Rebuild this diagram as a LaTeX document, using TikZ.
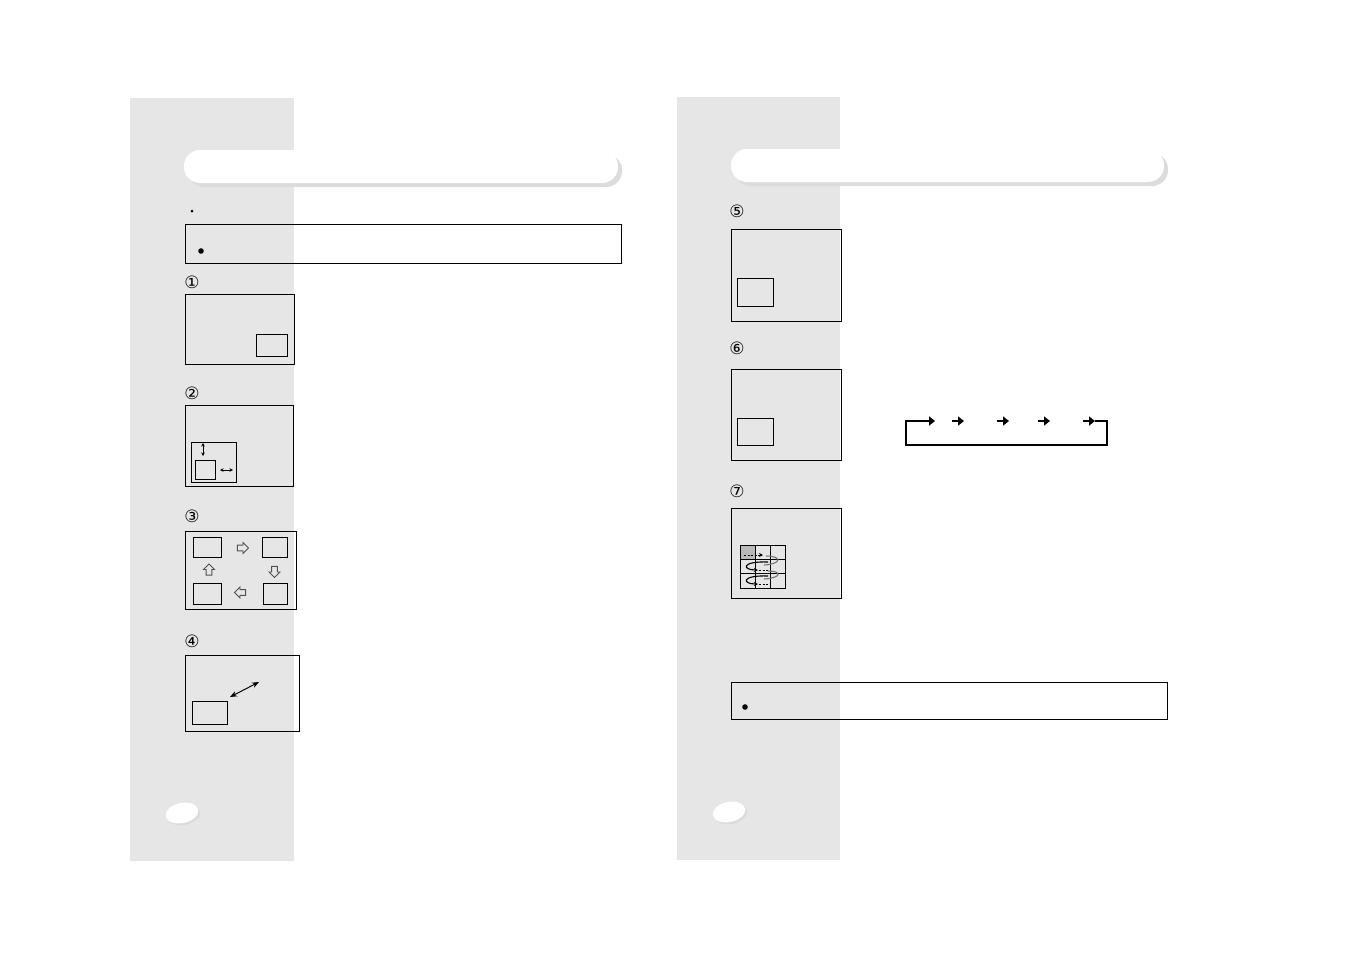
\documentclass[tikz,border=0pt]{standalone}
\usepackage{fontspec}
\newfontfamily\circfont{DejaVu Sans}
\usetikzlibrary{arrows.meta,shapes.arrows,positioning,calc}
\definecolor{pagegray}{RGB}{230,230,230}
\definecolor{shadegray}{RGB}{220,220,220}
\definecolor{cellgray}{RGB}{185,185,185}
\definecolor{hollowgray}{RGB}{80,80,80}

\begin{document}
\begin{tikzpicture}[x=1pt, y=-1pt,
    scr/.style={draw, line width=0.95pt, inner sep=0pt, outer sep=0pt, anchor=north west},
    win/.style={draw, line width=0.85pt, inner sep=0pt, outer sep=0pt, anchor=north west},
    cell/.style={draw, line width=0.8pt, inner sep=0pt, outer sep=0pt, anchor=north west, minimum width=15, minimum height=14.3},
    num/.style={font=\circfont\fontsize{17}{17}\selectfont, inner sep=0pt},
    bar/.style={fill=white, rounded corners=16pt},
    barsh/.style={fill=shadegray, rounded corners=16pt},
    hollow/.style={single arrow, draw=hollowgray, line width=0.9pt, inner sep=2.4pt, minimum height=11, single arrow head extend=2.6pt, single arrow head indent=0pt},
    tiny/.style={{Stealth[length=3.5pt,width=3.5pt]}-{Stealth[length=3.5pt,width=3.5pt]}, line width=0.7pt},
    dbl/.style={{Stealth[length=7pt,width=5.5pt]}-{Stealth[length=7pt,width=5.5pt]}, line width=1pt},
    fat/.style={-{Triangle[length=6pt,width=9pt]}, line width=2.6pt},
    lp/.style={line width=1.1pt},
    dsh/.style={dashed, dash pattern=on 2pt off 1.5pt, line width=0.9pt}
]
\useasboundingbox (0,0) rectangle (1351,954);

\fill[pagegray] (130,98) rectangle (294,861);
\fill[pagegray] (677,97) rectangle (840,860);

\fill[barsh] (188,154) rectangle (622,187);
\fill[bar] (184,150) rectangle (618,183);
\fill[barsh] (735,153) rectangle (1168,186);
\fill[bar] (731,149) rectangle (1164,182);

\fill (192,211) circle (1.5);
\node[scr, minimum width=436, minimum height=39] (note1) at (185,224) {};
\fill (201,251) circle (2.8);

\node[num] (n1) at (192,282) {①};
\node[scr, minimum width=109, minimum height=70] (scr1) at (185,294) {};
\node[win, minimum width=31, minimum height=22] (w1) at (256,334) {};

\node[num] (n2) at (192,393) {②};
\node[scr, minimum width=108, minimum height=81] (scr2) at (185,405) {};
\node[win, minimum width=45, minimum height=40] (w2) at (191,442) {};
\node[win, minimum width=20, minimum height=19] (w2s) at (195,460) {};
\draw[tiny] (203,443) -- (203,456);
\draw[tiny] (220,470) -- (233,470);

\node[num] (n3) at (192,516) {③};
\node[scr, minimum width=111, minimum height=78] (scr3) at (185,531) {};
\node[win, minimum width=28, minimum height=20] (w3a) at (193,537) {};
\node[win, minimum width=25, minimum height=20] (w3b) at (262,537) {};
\node[win, minimum width=28, minimum height=21] (w3d) at (193,583) {};
\node[win, minimum width=24, minimum height=21] (w3c) at (263,583) {};
\node[hollow] (h1) at (241.5,548) {};
\node[hollow, shape border rotate=270] (h2) at (274.5,570.5) {};
\node[hollow, shape border rotate=180] (h3) at (241.5,592.5) {};
\node[hollow, shape border rotate=90] (h4) at (209,571) {};

\node[num] (n4) at (192,641) {④};
\node[scr, minimum width=114, minimum height=76] (scr4) at (185,655) {};
\node[win, minimum width=35, minimum height=23] (w4) at (192,701) {};
\draw[dbl] (230,697) -- (259,682);

\fill[shadegray, rotate around={12:(184,815)}] (184,815) ellipse (16.5 and 10);
\fill[white, rotate around={12:(182,813)}] (182,813) ellipse (16.5 and 10);

\node[num] (n5) at (737,211) {⑤};
\node[scr, minimum width=110, minimum height=92] (scr5) at (731,229) {};
\node[win, minimum width=36, minimum height=28] (w5) at (737,278) {};

\node[num] (n6) at (737,348) {⑥};
\node[scr, minimum width=110, minimum height=91] (scr6) at (731,369) {};
\node[win, minimum width=36, minimum height=27] (w6) at (737,418) {};

\coordinate (ar1) at (923,421);
\coordinate (ar5) at (1095,421);
\coordinate (lbot) at (906,445);
\coordinate (rbot) at (1107,445);
\draw[fat] (ar1) -- ++(12,0);
\draw[fat] (952,421) -- ++(12,0);
\draw[fat] (997,421) -- ++(12,0);
\draw[fat] (1038,421) -- ++(12,0);
\draw[fat] (1083,421) -- (ar5);
\draw[lp] (ar5) -- (rbot |- ar5) -- (rbot) -- (lbot) -- (lbot |- ar1) -- (ar1);

\node[num] (n7) at (737,491) {⑦};
\node[scr, minimum width=110, minimum height=90] (scr7) at (731,508) {};
\fill[cellgray] (740,545) rectangle (755,559.3);
\foreach \r in {0,1,2}
  \foreach \c in {0,1,2}
    \node[cell] (c\r\c) at (740+15*\c, 545+14.3*\r) {};
\draw[dsh, -{Stealth[length=4pt,width=4pt]}] (744,555) -- (763,555);
\draw[lp, black!55] (766,556) .. controls (782,556) and (782,564) .. (764,565);
\draw[lp, -{Stealth[length=4pt,width=4pt]}] (768,562) .. controls (741,561) and (742,570) .. (758,570);
\draw[dsh] (759,570.5) -- (770,570.5);
\draw[lp, black!55] (768,571) .. controls (782,571) and (782,578) .. (764,579);
\draw[lp, -{Stealth[length=4pt,width=4pt]}] (768,576) .. controls (741,575) and (742,584) .. (758,584);
\draw[dsh] (759,584.5) -- (770,584.5);

\node[scr, minimum width=436, minimum height=37] (note2) at (731,682) {};
\fill (745,707) circle (2.8);

\fill[shadegray, rotate around={12:(731,814)}] (731,814) ellipse (16.5 and 10);
\fill[white, rotate around={12:(729,812)}] (729,812) ellipse (16.5 and 10);
\end{tikzpicture}
\end{document}
